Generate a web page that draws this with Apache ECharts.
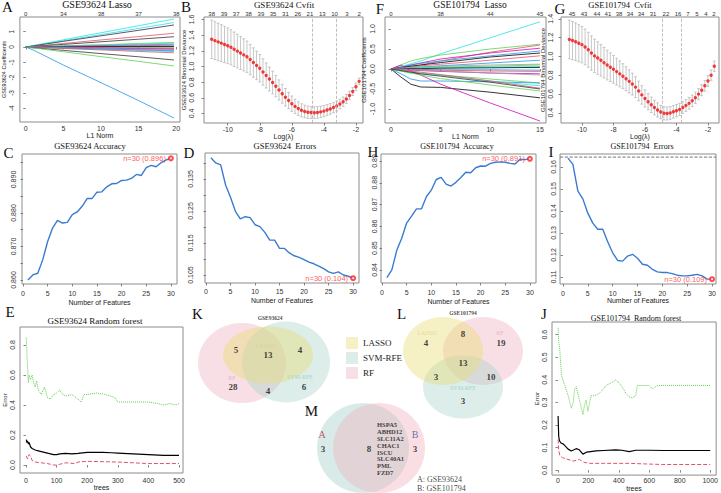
<!DOCTYPE html>
<html>
<head>
<meta charset="utf-8">
<script src="https://cdn.jsdelivr.net/npm/echarts@6/dist/echarts.min.js"></script>
<style>
  html, body { margin: 0; padding: 0; background: #fff; }
  #chart { width: 721px; height: 493px; }
</style>
</head>
<body>
<div id="chart"></div>
<script>
// ---------- data ----------
// A: GSE93624 lasso coefficient paths (value at each L1 norm knot)
const lassoAKnots = [0, 1, 5, 10, 15, 19.7];
const lassoAPaths = [
  [0, 0.10, 0.47, 0.93, 1.39, 1.83],
  [0, 0.08, 0.41, 0.81, 1.21, 1.60],
  [0, 0.07, 0.37, 0.73, 1.09, 1.44],
  [0, 0.05, 0.23, 0.46, 0.68, 0.90],
  [0, 0.03, 0.17, 0.34, 0.51, 0.67],
  [0, 0.02, 0.08, 0.15, 0.23, 0.30],
  [0, 0.01, 0.06, 0.13, 0.19, 0.25],
  [0, 0.01, 0.05, 0.09, 0.14, 0.18],
  [0, 0.01, 0.03, 0.06, 0.09, 0.12],
  [0, 0.00, 0.01, 0.03, 0.04, 0.05],
  [0, 0.00, 0.01, 0.01, 0.02, 0.02],
  [0, 0.00, -0.01, -0.03, -0.04, -0.05],
  [0, -0.01, -0.03, -0.05, -0.08, -0.10],
  [0, -0.01, -0.04, -0.08, -0.11, -0.15],
  [0, -0.01, -0.05, -0.10, -0.15, -0.20],
  [0, -0.02, -0.08, -0.15, -0.23, -0.30],
  [0, -0.01, -0.06, -0.13, -0.19, -0.25],
  [0, -0.02, -0.10, -0.19, -0.29, -0.38],
  [0, -0.05, -0.22, -0.43, -0.64, -0.85],
  [0, -0.06, -0.31, -0.63, -0.94, -1.24],
  [0, -0.20, -1.18, -2.33, -3.50, -4.64]
];
const lassoAColors = ['#28E2E5', '#28E2E5', '#3b2a45', '#DF536B', '#333333', '#61D04F', '#28E2E5', '#DF536B',
  '#2297E6', '#CD0BBC', '#000000', '#61D04F', '#DF536B', '#CD0BBC', '#9E9E9E', '#28E2E5', '#2297E6',
  '#DF536B', '#333333', '#61D04F', '#2297E6'];
const lassoATopPos = [0, 5, 10, 15, 20];
const lassoATopLab = ['0', '34', '38', '37', '38'];

// F: GSE101794 lasso coefficient paths
const lassoFKnots = [0, 1, 2, 3, 5, 10, 15];
const lassoFPaths = [
  [0, 0.06, 0.13, 0.20, 0.38, 0.78, 1.18],
  [0, 0.10, 0.20, 0.26, 0.35, 0.50, 0.62],
  [0, 0.02, 0.06, 0.10, 0.20, 0.42, 0.60],
  [0, 0.04, 0.10, 0.15, 0.25, 0.40, 0.52],
  [0, 0.05, 0.10, 0.14, 0.20, 0.33, 0.45],
  [0, 0.03, 0.07, 0.10, 0.16, 0.30, 0.40],
  [0, 0.02, 0.05, 0.08, 0.12, 0.22, 0.33],
  [0, 0.02, 0.03, 0.05, 0.08, 0.15, 0.22],
  [0, 0.02, 0.04, 0.05, 0.07, 0.10, 0.12],
  [0, 0.02, 0.03, 0.04, 0.05, 0.07, 0.10],
  [0, 0.01, 0.02, 0.03, 0.03, 0.05, 0.06],
  [0, 0.00, 0.01, 0.01, 0.02, 0.03, 0.04],
  [0, -0.01, -0.01, -0.01, -0.02, -0.02, -0.03],
  [0, 0.00, -0.01, -0.02, -0.03, -0.05, -0.06],
  [0, -0.01, -0.03, -0.04, -0.06, -0.10, -0.12],
  [0, -0.01, -0.02, -0.03, -0.05, -0.10, -0.15],
  [0, -0.03, -0.07, -0.10, -0.15, -0.25, -0.35],
  [0, -0.20, -0.38, -0.45, -0.46, -0.58, -0.72],
  [0, -0.12, -0.25, -0.30, -0.30, -0.32, -0.35],
  [0, -0.05, -0.10, -0.12, -0.16, -0.30, -0.42],
  [0, 0.10, -0.05, -0.15, -0.38, -0.85, -1.30],
  [0, -0.05, -0.10, -0.15, -0.24, -0.40, -0.55],
  [0, -0.02, -0.05, -0.08, -0.14, -0.30, -0.48],
  [0, -0.04, -0.08, -0.12, -0.18, -0.33, -0.50]
];
const lassoFColors = ['#28E2E5', '#61D04F', '#DF536B', '#CD0BBC', '#2297E6', '#000000', '#DF536B', '#2297E6',
  '#9E9E9E', '#61D04F', '#28E2E5', '#000000', '#2297E6', '#DF536B', '#CD0BBC', '#9E9E9E', '#61D04F',
  '#000000', '#2297E6', '#28E2E5', '#CD0BBC', '#61D04F', '#DF536B', '#333333'];
const lassoFTopPos = [0, 5, 10, 15];
const lassoFTopLab = ['0', '38', '44', '45'];

// B: GSE93624 cross-validation
const lambdaB = [-11.0, -10.8, -10.6, -10.4, -10.2, -10.0, -9.8, -9.6, -9.4, -9.2, -9.0, -8.8, -8.6, -8.4, -8.2,
  -8.0, -7.8, -7.6, -7.4, -7.2, -7.0, -6.8, -6.6, -6.4, -6.2, -6.0, -5.8, -5.6, -5.4, -5.2, -5.0, -4.8, -4.6,
  -4.4, -4.2, -4.0, -3.8, -3.6, -3.4, -3.2, -3.0, -2.8, -2.6, -2.4, -2.2, -2.0, -1.8];
const devB = [1.347, 1.330, 1.314, 1.298, 1.281, 1.264, 1.245, 1.220, 1.196, 1.172, 1.148, 1.124, 1.088, 1.050,
  1.013, 0.977, 0.930, 0.885, 0.840, 0.795, 0.748, 0.700, 0.652, 0.607, 0.565, 0.525, 0.490, 0.462, 0.440,
  0.425, 0.416, 0.411, 0.410, 0.413, 0.420, 0.430, 0.443, 0.458, 0.475, 0.495, 0.520, 0.550, 0.585, 0.630,
  0.680, 0.740, 0.810];
const sdB = [0.245, 0.242, 0.239, 0.236, 0.232, 0.228, 0.224, 0.220, 0.215, 0.210, 0.205, 0.200, 0.194, 0.188,
  0.182, 0.175, 0.168, 0.160, 0.152, 0.144, 0.136, 0.128, 0.120, 0.112, 0.105, 0.098, 0.092, 0.087, 0.083,
  0.080, 0.078, 0.076, 0.075, 0.074, 0.073, 0.072, 0.070, 0.068, 0.066, 0.064, 0.062, 0.060, 0.057, 0.054,
  0.050, 0.046, 0.042];
const cvBTopPos = [-11.0, -10.23, -9.47, -8.7, -7.93, -7.17, -6.4, -5.63, -4.87, -4.1, -3.33, -2.57, -1.8];
const cvBTopLab = ['38', '39', '37', '38', '39', '35', '31', '26', '21', '13', '10', '3', '2'];
const cvBLines = [-4.7, -3.2];

// G: GSE101794 cross-validation
const lambdaG = [-10.8, -10.6, -10.4, -10.2, -10.0, -9.8, -9.6, -9.4, -9.2, -9.0, -8.8, -8.6, -8.4, -8.2, -8.0,
  -7.8, -7.6, -7.4, -7.2, -7.0, -6.8, -6.6, -6.4, -6.2, -6.0, -5.8, -5.6, -5.4, -5.2, -5.0, -4.8, -4.6, -4.4,
  -4.2, -4.0, -3.8, -3.6, -3.4, -3.2, -3.0, -2.8, -2.6, -2.4, -2.2, -2.0, -1.8, -1.6];
const devG = [1.180, 1.168, 1.155, 1.140, 1.125, 1.100, 1.070, 1.035, 1.005, 0.982, 0.958, 0.933, 0.908, 0.885,
  0.862, 0.838, 0.814, 0.789, 0.762, 0.734, 0.705, 0.673, 0.632, 0.590, 0.552, 0.517, 0.485, 0.456, 0.430,
  0.408, 0.394, 0.392, 0.398, 0.410, 0.422, 0.435, 0.456, 0.478, 0.500, 0.527, 0.560, 0.598, 0.640, 0.687,
  0.738, 0.800, 0.895];
const sdG = [0.205, 0.203, 0.200, 0.197, 0.194, 0.190, 0.186, 0.182, 0.178, 0.173, 0.168, 0.163, 0.158, 0.153,
  0.148, 0.143, 0.138, 0.133, 0.128, 0.122, 0.116, 0.110, 0.104, 0.098, 0.092, 0.087, 0.082, 0.078, 0.075,
  0.072, 0.070, 0.069, 0.068, 0.067, 0.066, 0.065, 0.064, 0.063, 0.062, 0.061, 0.060, 0.059, 0.058, 0.057,
  0.056, 0.055, 0.055];
const cvGTopPos = [-10.63, -9.87, -9.05, -8.35, -7.65, -6.95, -6.25, -5.49, -4.67, -3.9, -3.27, -2.7, -2.13, -1.62];
const cvGTopLab = ['45', '43', '44', '41', '38', '34', '34', '31', '22', '16', '7', '5', '4', '2'];
const cvGLines = [-4.9, -3.7];

// C, D, H, I: SVM-RFE curves, features 1..30
const nFeatures = [1, 2, 3, 4, 5, 6, 7, 8, 9, 10, 11, 12, 13, 14, 15, 16, 17, 18, 19, 20, 21, 22, 23, 24, 25,
  26, 27, 28, 29, 30];
const accC = [0.8600, 0.8615, 0.8620, 0.8660, 0.8715, 0.8755, 0.8778, 0.8770, 0.8772, 0.8795, 0.8803, 0.8820,
  0.8843, 0.8843, 0.8862, 0.8863, 0.8878, 0.8887, 0.8888, 0.8897, 0.8898, 0.8903, 0.8915, 0.8912, 0.8935,
  0.8942, 0.8938, 0.8950, 0.8958, 0.8963];
const errD = [0.1416, 0.1400, 0.1394, 0.1331, 0.1293, 0.1249, 0.1225, 0.1232, 0.1229, 0.1207, 0.1201, 0.1183,
  0.1159, 0.1159, 0.1133, 0.1133, 0.1119, 0.1110, 0.1105, 0.1098, 0.1090, 0.1085, 0.1078, 0.1070, 0.1060,
  0.1055, 0.1060, 0.1050, 0.1046, 0.1040];
const accH = [0.8365, 0.8400, 0.8490, 0.8545, 0.8615, 0.8647, 0.8680, 0.8680, 0.8736, 0.8766, 0.8815, 0.8825,
  0.8794, 0.8785, 0.8802, 0.8824, 0.8848, 0.8846, 0.8869, 0.8877, 0.8876, 0.8889, 0.8894, 0.8896, 0.8894,
  0.8889, 0.8886, 0.8908, 0.8906, 0.8910];
const errI = [0.1640, 0.1612, 0.1490, 0.1455, 0.1390, 0.1345, 0.1317, 0.1317, 0.1260, 0.1210, 0.1175, 0.1172,
  0.1195, 0.1203, 0.1185, 0.1158, 0.1153, 0.1135, 0.1123, 0.1120, 0.1120, 0.1115, 0.1108, 0.1105, 0.1105,
  0.1108, 0.1112, 0.1105, 0.1090, 0.1090];
const errIRef = 0.1645;

// E, J: random forest error vs trees, [trees, error]
const rfEOob = [[1, 0.17], [3, 0.15], [5, 0.16], [8, 0.14], [10, 0.15], [15, 0.12], [20, 0.11], [30, 0.10],
  [40, 0.095], [50, 0.09], [60, 0.085], [70, 0.08], [80, 0.075], [90, 0.07], [100, 0.07], [110, 0.075],
  [130, 0.078], [150, 0.075], [170, 0.078], [200, 0.085], [250, 0.085], [280, 0.082], [300, 0.08],
  [350, 0.075], [400, 0.07], [450, 0.065], [500, 0.065]];
const rfEClass1 = [[1, 0.06], [5, 0.04], [10, 0.07], [15, 0.06], [20, 0.03], [30, 0.02], [50, 0.015],
  [70, 0.01], [90, 0.0], [100, 0.0], [110, 0.005], [130, 0.015], [160, 0.01], [170, 0.02], [200, 0.025],
  [300, 0.02], [400, 0.01], [500, 0.01]];
const rfEClass2 = [[1, 0.85], [3, 0.75], [5, 0.65], [8, 0.55], [10, 0.6], [15, 0.57], [20, 0.6], [25, 0.55],
  [30, 0.52], [35, 0.56], [40, 0.5], [50, 0.47], [60, 0.52], [70, 0.45], [80, 0.44], [90, 0.47], [100, 0.48],
  [110, 0.5], [120, 0.47], [130, 0.46], [150, 0.47], [170, 0.44], [180, 0.42], [190, 0.47], [200, 0.47],
  [230, 0.48], [260, 0.47], [290, 0.45], [300, 0.42], [350, 0.42], [400, 0.42], [430, 0.41], [450, 0.40],
  [470, 0.41], [490, 0.40], [500, 0.41]];
const rfJOob = [[1, 0.24], [5, 0.15], [10, 0.13], [20, 0.12], [36, 0.115], [50, 0.105], [67, 0.093], [88, 0.085],
  [105, 0.09], [120, 0.095], [140, 0.09], [164, 0.071], [190, 0.08], [250, 0.085], [300, 0.087], [380, 0.09],
  [420, 0.088], [468, 0.082], [511, 0.088], [600, 0.088], [700, 0.087], [800, 0.087], [1000, 0.087]];
const rfJClass1 = [[1, 0.136], [5, 0.09], [12, 0.065], [30, 0.055], [55, 0.05], [100, 0.04], [142, 0.047],
  [170, 0.035], [207, 0.03], [300, 0.03], [468, 0.03], [550, 0.028], [685, 0.025], [1000, 0.025]];
const rfJClass2 = [[1, 0.63], [5, 0.57], [12, 0.535], [23, 0.42], [45, 0.375], [67, 0.33], [88, 0.274],
  [100, 0.3], [110, 0.36], [120, 0.37], [131, 0.34], [145, 0.3], [164, 0.245], [175, 0.29], [185, 0.31],
  [196, 0.26], [218, 0.33], [240, 0.33], [272, 0.34], [300, 0.36], [316, 0.375], [359, 0.39], [380, 0.4],
  [403, 0.385], [430, 0.36], [446, 0.34], [468, 0.325], [490, 0.32], [511, 0.33], [522, 0.375], [600, 0.375],
  [620, 0.36], [642, 0.37], [660, 0.375], [1000, 0.375]];

// K, L, M: Venn diagrams (ellipses [cx, cy, w, h] in the venn panel units, counts)
const vennSets = ['LASSO', 'SVM-RFE', 'RF'];
const vennLasso = [[268, 355, 90, 57], [443, 351, 80, 68]];
const vennSvm = [[286, 362, 88, 81], [463, 387, 80, 63]];
const vennRf = [[242, 363, 88, 80], [483, 351, 80, 68]];
const vennKCounts = [[236, 350, '5'], [268, 355, '13'], [300, 350, '4'], [233, 387, '28'], [268, 391, '4'], [304, 387, '6']];
const vennLCounts = [[463, 334, '8'], [426, 343, '4'], [501, 343, '19'], [463, 363, '13'], [436, 377, '3'], [491, 377, '10'], [463, 401, '3']];
const vennMA = [[363, 448, 92, 90]];
const vennMB = [[379, 448, 92, 90]];
const vennMCounts = [[323, 449, '3'], [369, 449, '8'], [415, 449, '3']];
const sharedGenes = ['HSPA5', 'ABHD12', 'SLC11A2', 'CHAC1', 'ISCU', 'SLC40A1', 'PML', 'FZD7'];

// ---------- building the option ----------
const SERIF = '"Liberation Serif","DejaVu Serif",serif';
const SANS = '"Liberation Sans","DejaVu Sans",Arial,sans-serif';

const grids = [], xAxes = [], yAxes = [], series = [], graphics = [];

function panel(p) {
  const gi = grids.length;
  grids.push({
    left: p.box[0], top: p.box[1], width: p.box[2] - p.box[0], height: p.box[3] - p.box[1],
    show: true, borderColor: '#8c8c8c', borderWidth: 1
  });
  const xi = xAxes.length;
  xAxes.push({
    type: 'value', gridIndex: gi, position: 'bottom', min: p.x[0], max: p.x[1],
    axisLine: { show: false }, splitLine: { show: false },
    axisTick: { show: true, length: 2.5, customValues: p.xTicks, lineStyle: { color: '#666', width: 0.8 } },
    axisLabel: { customValues: p.xTicks, fontSize: 7, fontFamily: SANS, color: '#333', margin: p.xm,
      formatter: p.xFmt || (v => String(v)) },
    name: p.xName || '', nameLocation: 'middle', nameGap: p.xng || 0,
    nameTextStyle: { fontSize: 7, fontFamily: SANS, color: '#222' }
  });
  const yi = yAxes.length;
  yAxes.push({
    type: 'value', gridIndex: gi, position: 'left', min: p.y[0], max: p.y[1],
    axisLine: { show: false }, splitLine: { show: false },
    axisTick: { show: true, length: 2.5, customValues: p.yTicks, lineStyle: { color: '#666', width: 0.8 } },
    axisLabel: { customValues: p.yLabels || p.yTicks, rotate: 90, fontSize: p.ylf || 7, fontFamily: SANS, color: '#333',
      margin: p.ym, formatter: p.yFmt || (v => String(v)) },
    name: p.yName || '', nameLocation: 'middle', nameGap: p.yng || 0,
    nameTextStyle: { fontSize: p.ynf || 6, fontFamily: SANS, color: '#222' }
  });
  let txi = null;
  if (p.topPos) {
    txi = xAxes.length;
    xAxes.push({
      type: 'value', gridIndex: gi, position: 'top', min: p.x[0], max: p.x[1],
      axisLine: { show: false }, splitLine: { show: false }, axisTick: { show: false },
      axisLabel: { customValues: p.topPos, fontSize: 6, fontFamily: SANS, color: '#333', margin: 0.5,
        formatter: (v, i) => { const k = p.topPos.indexOf(v); return p.topLab[k >= 0 ? k : i]; } }
    });
  }
  graphics.push({ type: 'text', x: p.title[1], y: p.title[2], silent: true,
    style: { text: p.title[0], fontSize: p.title[3], fontFamily: SERIF, fill: '#111', align: 'center', verticalAlign: 'middle' } });
  graphics.push({ type: 'text', x: p.letter[1], y: p.letter[2], silent: true,
    style: { text: p.letter[0], fontSize: 15, fontFamily: SERIF, fill: '#111', align: 'center', verticalAlign: 'middle' } });
  return { xi, yi, txi, p };
}

function lassoSeries(ax, knots, paths, colors) {
  paths.forEach((path, k) => {
    series.push({
      type: 'line', xAxisIndex: ax.xi, yAxisIndex: ax.yi, silent: true, showSymbol: false,
      lineStyle: { width: 0.8, color: colors[k % colors.length] },
      data: knots.map((x, i) => [x, path[i]])
    });
  });
}

function cvSeries(ax, lam, dev, sd, lines) {
  series.push({
    type: 'custom', xAxisIndex: ax.xi, yAxisIndex: ax.yi, silent: true, z: 2,
    encode: { x: 0, y: [2, 3] },
    data: lam.map((l, i) => [l, dev[i], dev[i] - sd[i], dev[i] + sd[i]]),
    renderItem: (params, api) => {
      const hi = api.coord([api.value(0), api.value(3)]);
      const lo = api.coord([api.value(0), api.value(2)]);
      const st = { stroke: '#b9b9b9', lineWidth: 0.8 };
      return { type: 'group', children: [
        { type: 'line', shape: { x1: hi[0], y1: hi[1], x2: lo[0], y2: lo[1] }, style: st },
        { type: 'line', shape: { x1: hi[0] - 1.4, y1: hi[1], x2: hi[0] + 1.4, y2: hi[1] }, style: st },
        { type: 'line', shape: { x1: lo[0] - 1.4, y1: lo[1], x2: lo[0] + 1.4, y2: lo[1] }, style: st }
      ] };
    }
  });
  series.push({
    type: 'scatter', xAxisIndex: ax.xi, yAxisIndex: ax.yi, silent: true, z: 3,
    symbolSize: 3.4, itemStyle: { color: '#f01010' },
    data: lam.map((l, i) => [l, dev[i]]),
    markLine: { symbol: 'none', silent: true, precision: 3, label: { show: false },
      lineStyle: { type: 'dashed', color: '#b0b0b0', width: 0.8 },
      data: lines.map(v => ({ xAxis: v })) }
  });
}

function rfeSeries(ax, values, digits) {
  series.push({
    type: 'line', xAxisIndex: ax.xi, yAxisIndex: ax.yi, silent: true, showSymbol: false,
    lineStyle: { width: 1.4, color: '#3a7bd0' },
    data: nFeatures.map((n, i) => [n, values[i]])
  });
  const last = values.length - 1;
  series.push({
    type: 'scatter', xAxisIndex: ax.xi, yAxisIndex: ax.yi, silent: true, z: 4,
    symbol: 'emptyCircle', symbolSize: 4, itemStyle: { color: '#ff2020', borderWidth: 0.8 },
    data: [[nFeatures[last], values[last]]],
    label: { show: true, position: 'left', distance: 2, color: '#ff2a2a', fontSize: 7.5, fontFamily: SANS,
      formatter: () => `n=${nFeatures[last]} (${values[last].toFixed(digits)})` }
  });
}

function rfSeries(ax, oob, c1, c2) {
  series.push({ type: 'line', xAxisIndex: ax.xi, yAxisIndex: ax.yi, silent: true, showSymbol: false, z: 3,
    lineStyle: { width: 1.2, color: '#000' }, data: oob });
  series.push({ type: 'line', xAxisIndex: ax.xi, yAxisIndex: ax.yi, silent: true, showSymbol: false,
    lineStyle: { width: 1, color: '#DF536B', type: 'dashed' }, data: c1 });
  series.push({ type: 'line', xAxisIndex: ax.xi, yAxisIndex: ax.yi, silent: true, showSymbol: false,
    lineStyle: { width: 1, color: '#61D04F', type: 'dotted' }, data: c2 });
}

// ----- panels -----
const fmt1 = v => v.toFixed(1), fmt2 = v => v.toFixed(2), fmt3 = v => v.toFixed(3);
const feat = [0, 5, 10, 15, 20, 25, 30];

const axA = panel({ box: [16, 17, 180, 122], x: [-0.78, 20.5], y: [-4.9, 1.96],
  xTicks: [0, 5, 10, 15, 20], yTicks: [-4, -3, -2, -1, 0, 1], xm: 2.5, ym: 5, ylf: 6.5,
  xName: 'L1 Norm', xng: 9, yName: 'GSE93624 Coefficients', yng: 11, ynf: 5.5,
  topPos: lassoATopPos, topLab: lassoATopLab,
  title: ['GSE93624 Lasso', 97, 4.5, 10], letter: ['A', 7.5, 6.5] });
lassoSeries(axA, lassoAKnots, lassoAPaths, lassoAColors);

const axB = panel({ box: [204, 17, 363, 123], x: [-11.48, -1.56], y: [0.278, 1.632],
  xTicks: [-10, -8, -6, -4, -2], yTicks: [0.4, 0.6, 0.8, 1.0, 1.2, 1.4, 1.6], yFmt: fmt1, xm: 2.5, ym: 9,
  xName: 'Log(λ)', xng: 9, yName: 'GSE93624 Binomial Deviance', yng: 17,
  topPos: cvBTopPos, topLab: cvBTopLab,
  title: ['GSE93624 Cvfit', 284, 4.5, 9], letter: ['B', 186, 6.5] });
cvSeries(axB, lambdaB, devB, sdB, cvBLines);

const axF = panel({ box: [385, 17, 546, 123], x: [-0.6, 15.61], y: [-1.35, 1.3],
  xTicks: [0, 5, 10, 15], yTicks: [-1, -0.5, 0, 0.5, 1], yFmt: fmt1, xm: 2.5, ym: 9.5,
  xName: 'L1 Norm', xng: 9, yName: 'GSE101794 Coefficients', yng: 18,
  topPos: lassoFTopPos, topLab: lassoFTopLab,
  title: ['GSE101794  Lasso', 470, 4.5, 9.5], letter: ['F', 380, 8.5] });
lassoSeries(axF, lassoFKnots, lassoFPaths, lassoFColors);

const axG = panel({ box: [561, 17, 719, 123], x: [-11.33, -1.3], y: [0.291, 1.419],
  xTicks: [-10, -8, -6, -4, -2], yTicks: [0.4, 0.6, 0.8, 1.0, 1.2, 1.4], yFmt: fmt1, xm: 2.5, ym: 7.5,
  xName: 'Log(λ)', xng: 9, yName: 'GSE101794 Binomial Deviance', yng: 14,
  topPos: cvGTopPos, topLab: cvGTopLab,
  title: ['GSE101794  Cvfit', 620, 4.5, 8.5], letter: ['G', 560, 8.5] });
cvSeries(axG, lambdaG, devG, sdG, cvGLines);

const axC = panel({ box: [22, 154, 177, 284], x: [-0.2, 31.24], y: [0.8588, 0.8976],
  xTicks: feat, yTicks: [0.860, 0.865, 0.870, 0.875, 0.880, 0.885, 0.890, 0.895], yLabels: [0.860, 0.870, 0.880, 0.890],
  yFmt: fmt3, xm: 5.5, ym: 5.5, xName: 'Number of Features', xng: 14.5,
  title: ['GSE93624 Accuracy', 90, 145.5, 8.5], letter: ['C', 8.5, 153] });
rfeSeries(axC, accC, 3);

const axD = panel({ box: [205, 153, 359, 283], x: [-0.2, 31.2], y: [0.1025, 0.1431],
  xTicks: feat, yTicks: [0.105, 0.110, 0.115, 0.120, 0.125, 0.130, 0.135, 0.140], yLabels: [0.105, 0.115, 0.125, 0.135],
  yFmt: fmt3, xm: 5, ym: 11, xName: 'Number of Features', xng: 14,
  title: ['GSE93624  Errors', 285, 146, 8.5], letter: ['D', 189, 153] });
rfeSeries(axD, errD, 3);

const axH = panel({ box: [381, 154, 536, 283], x: [-0.2, 31.24], y: [0.834, 0.8932],
  xTicks: feat, yTicks: [0.84, 0.85, 0.86, 0.87, 0.88, 0.89], yFmt: fmt2, xm: 5.5, ym: 3,
  xName: 'Number of Features', xng: 14.5,
  title: ['GSE101794  Accuracy', 457, 146, 8], letter: ['H', 373, 152] });
rfeSeries(axH, accH, 3);

const axI = panel({ box: [560, 154, 716, 284], x: [-0.6, 30.8], y: [0.1068, 0.1659],
  xTicks: feat, yTicks: [0.11, 0.12, 0.13, 0.14, 0.15, 0.16], yFmt: fmt2, xm: 5.5, ym: 3.5,
  xName: 'Number of Features', xng: 12.5,
  title: ['GSE101794  Errors', 642, 146, 8], letter: ['I', 551, 152] });
// reference line across the I panel
series.push({ type: 'line', xAxisIndex: axI.xi, yAxisIndex: axI.yi, silent: true, showSymbol: false,
  lineStyle: { type: 'dashed', color: '#555', width: 0.8 },
  data: [[axI.p.x[0], errIRef], [axI.p.x[1], errIRef]] });
rfeSeries(axI, errI, 3);

const axE = panel({ box: [20, 327, 183, 473], x: [-19.6, 513], y: [-0.053, 0.92],
  xTicks: [0, 100, 200, 300, 400, 500], yTicks: [0, 0.2, 0.4, 0.6, 0.8], yFmt: fmt1, xm: 3.5, ym: 4.5,
  xName: 'trees', xng: 9, yName: 'Error', yng: 12,
  title: ['GSE93624 Random forest', 95, 321, 9], letter: ['E', 10, 312] });
rfSeries(axE, rfEOob, rfEClass1, rfEClass2);

const axJ = panel({ box: [552, 322, 718, 478], x: [-39, 1039], y: [-0.022, 0.656],
  xTicks: [0, 200, 400, 600, 800, 1000], yTicks: [0, 0.1, 0.2, 0.3, 0.4, 0.5, 0.6], yFmt: fmt1, xm: 2, ym: 4.5,
  xName: 'trees', xng: 6, yName: 'Error', yng: 12,
  title: ['GSE101794  Random forest', 636, 318, 8], letter: ['J', 544, 314] });
rfSeries(axJ, rfJOob, rfJClass1, rfJClass2);

// ----- Venn panel (K, L, M) -----
const vg = grids.length;
grids.push({ left: 190, top: 295, width: 345, height: 198, show: false });
const vx = xAxes.length, vy = yAxes.length;
xAxes.push({ type: 'value', gridIndex: vg, min: 190, max: 535, show: false });
yAxes.push({ type: 'value', gridIndex: vg, min: 295, max: 493, inverse: true, show: false });

function ellipseSeries(name, list, color) {
  series.push({
    name, type: 'scatter', xAxisIndex: vx, yAxisIndex: vy, silent: true, clip: false, z: 1,
    symbol: 'circle', itemStyle: { color },
    data: list.map(e => ({ value: [e[0], e[1]], symbolSize: [e[2], e[3]] }))
  });
}
function textSeries(pts, lab) {
  series.push({
    type: 'scatter', xAxisIndex: vx, yAxisIndex: vy, silent: true, clip: false, z: 5,
    symbolSize: 0, data: pts,
    label: Object.assign({ show: true, position: [0, 0], align: 'center', verticalAlign: 'middle',
      fontFamily: SERIF, color: '#111', formatter: p => p.value[2] }, lab)
  });
}

ellipseSeries('RF', vennRf, 'rgba(237,175,191,0.5)');
ellipseSeries('SVM-RFE', vennSvm, 'rgba(167,211,203,0.5)');
ellipseSeries('LASSO', vennLasso, 'rgba(233,221,109,0.5)');
ellipseSeries('GSE93624', vennMA, 'rgba(160,208,200,0.52)');
ellipseSeries('GSE101794', vennMB, 'rgba(240,172,186,0.48)');

textSeries(vennKCounts.concat(vennLCounts, vennMCounts), { fontSize: 9, fontWeight: 'bold' });
textSeries([[265, 346, 'LASSO'], [427, 333, 'LASSO']], { fontSize: 6, color: '#ddd08a' });
textSeries([[232, 378, 'RF'], [500, 333, 'RF']], { fontSize: 6, color: '#eaa8bc' });
textSeries([[300, 377, 'SVM-RFE'], [463, 388, 'SVM-RFE']], { fontSize: 6, color: '#98cdc4' });
textSeries([[270, 318, 'GSE93624'], [463, 313, 'GSE101794']], { fontSize: 5.5, fontWeight: 'bold' });
textSeries([[322, 434, 'A']], { fontSize: 10, color: '#b8323f' });
textSeries([[415, 434, 'B']], { fontSize: 10, color: '#3d4f9c' });
textSeries([[377, 421, sharedGenes.join('\n')]], { fontSize: 6.5, fontWeight: 'bold', lineHeight: 6.9,
  align: 'left', verticalAlign: 'top' });
textSeries([[417, 479, 'A: GSE93624'], [417, 488.5, 'B: GSE101794']], { fontSize: 8, align: 'left' });

[['K', 197.5, 313.5], ['L', 401.5, 313.5], ['M', 311.5, 410.5]].forEach(l => {
  graphics.push({ type: 'text', x: l[1], y: l[2], silent: true,
    style: { text: l[0], fontSize: 15, fontFamily: SERIF, fill: '#111', align: 'center', verticalAlign: 'middle' } });
});

const option = {
  animation: false,
  backgroundColor: '#fff',
  grid: grids,
  xAxis: xAxes,
  yAxis: yAxes,
  legend: {
    data: vennSets, orient: 'vertical', left: 341, top: 332, itemWidth: 12, itemHeight: 12, itemGap: 3,
    icon: 'rect', selectedMode: false, textStyle: { fontFamily: SERIF, fontSize: 9, color: '#222' }
  },
  graphic: graphics,
  series
};

const chart = echarts.init(document.getElementById('chart'), null, { renderer: 'svg' });
chart.setOption(option);
window.addEventListener('resize', () => chart.resize());
</script>
</body>
</html>
